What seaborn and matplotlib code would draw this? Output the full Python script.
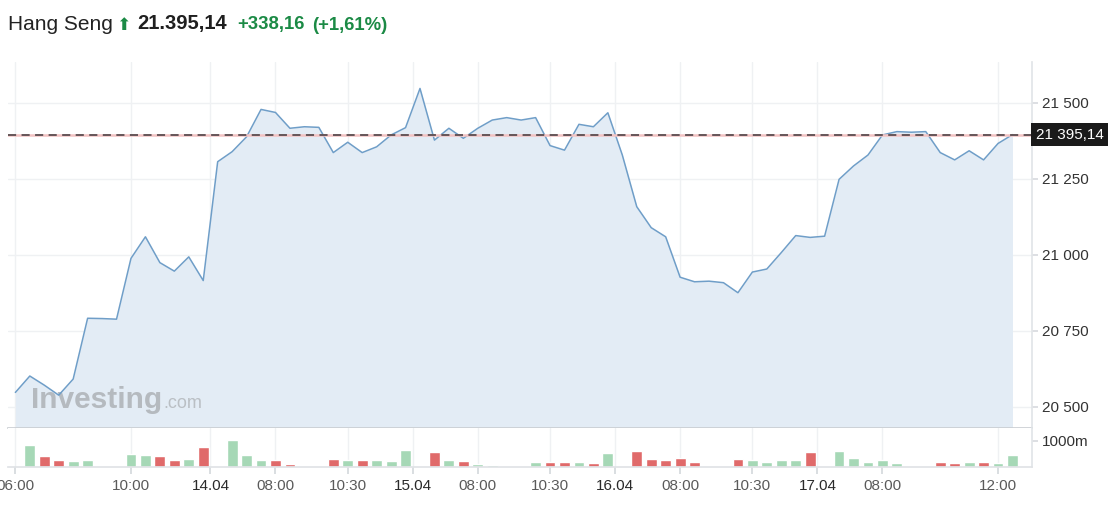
import numpy as np
import pandas as pd
import matplotlib
matplotlib.use("Agg")
import matplotlib.pyplot as plt
import matplotlib.transforms as mtransforms
from matplotlib.ticker import FixedLocator, FuncFormatter
import seaborn as sns

# ---------------- data ----------------
title_name = "Hang Seng"
last_value_text = "21.395,14"
change_text = "+338,16"
change_pct_text = "(+1,61%)"
last_price = 21395.14
last_price_label = "21 395,14"

price = [20547, 20601, 20571, 20538, 20591, 20791, 20790, 20788, 20988, 21059,
         20974, 20946, 20993, 20915, 21306, 21339, 21388, 21478, 21468, 21416,
         21421, 21419, 21336, 21370, 21336, 21355, 21394, 21418, 21547, 21377,
         21416, 21383, 21416, 21443, 21451, 21443, 21451, 21359, 21344, 21429,
         21421, 21467, 21328, 21158, 21089, 21059, 20926, 20911, 20913, 20908,
         20875, 20943, 20953, 21007, 21063, 21057, 21061, 21248, 21292, 21328,
         21394, 21405, 21403, 21405, 21336, 21312, 21342, 21312, 21366, 21395.14]

nan = np.nan
volume = [nan, 860, 435, 280, 220, 280, nan, nan, 510, 475,
          435, 280, 320, 770, nan, 1050, 475, 280, 280, 130,
          nan, nan, 320, 280, 280, 280, 220, 665, nan, 565,
          280, 220, 130, 90, nan, nan, 180, 190, 195, 195,
          140, 520, nan, 620, 310, 255, 350, 195, nan, nan,
          310, 255, 195, 255, 255, 565, nan, 620, 350, 195,
          255, 140, nan, nan, 195, 140, 195, 195, 140, 465]

tick_labels = ["06:00", "10:00", "14.04", "08:00", "10:30", "15.04", "08:00",
               "10:30", "16.04", "08:00", "10:30", "17.04", "08:00", "12:00"]
tick_index = [0, 8, 13.5, 18, 23, 27.5, 32, 37, 41.5, 46, 51, 55.5, 60, 68]
price_ticks = [20500, 20750, 21000, 21250, 21500]
volume_ticks = [1000]

# ---------------- style ----------------
sns.set_theme(style="white")
plt.rcParams['font.family'] = ['Liberation Sans', 'DejaVu Sans']

W, H = 1116, 513
fig = plt.figure(figsize=(W / 100, H / 100), dpi=100, facecolor="white")

def fx(px):
    return px / W

def fy(py):
    return 1 - py / H

L, R = 8, 1032
P_TOP, P_BOT, V_BOT = 62, 428, 467
ax = fig.add_axes([fx(L), fy(P_BOT), fx(R - L), (P_BOT - P_TOP) / H])
axv = fig.add_axes([fx(L), fy(V_BOT), fx(R - L), (V_BOT - P_BOT) / H], sharex=ax)

GREEN = "#1b8a45"
GRID = "#eff1f3"

# ---------------- price panel ----------------
df = pd.DataFrame({"i": np.arange(len(price)), "price": price})
ax.fill_between(df["i"], df["price"], 20000, color="#e3ecf5", lw=0, zorder=1)
sns.lineplot(data=df, x="i", y="price", ax=ax, color="#6f9ec8", lw=1.1, zorder=3)

ax.axhline(last_price, color="#f3c3c3", lw=1.8, zorder=4)
ax.axhline(last_price, color="#5a4d50", lw=1.3, dashes=(4.5, 3), zorder=5)

ax.set_ylim(20430, 21634)
ax.yaxis.tick_right()
ax.yaxis.set_major_locator(FixedLocator(price_ticks))
ax.yaxis.set_major_formatter(FuncFormatter(lambda v, p: f"{v:,.0f}".replace(",", " ")))
ax.tick_params(axis="y", length=4, color="#d8dbdf", labelsize=11, labelcolor="#333333", pad=3)
ax.tick_params(axis="x", length=0, labelbottom=False)
ax.set_xlabel("")
ax.set_ylabel("")
ax.grid(True, color=GRID, lw=1)
ax.set_axisbelow(True)
for s in ["top", "left"]:
    ax.spines[s].set_visible(False)
ax.spines["bottom"].set_color("#c9cdd2")
ax.spines["bottom"].set_linewidth(1.2)
ax.spines["right"].set_color("#e2e5e8")

trans = mtransforms.offset_copy(
    mtransforms.blended_transform_factory(ax.transAxes, ax.transData),
    fig=fig, x=4, y=0, units="dots")
ax.text(1.0, last_price, last_price_label, transform=trans, ha="left", va="center",
        color="white", fontsize=11, zorder=10, clip_on=False,
        bbox=dict(boxstyle="square,pad=0.3", fc="#1a1a1a", ec="none"))

# watermark
ax.text(fx(31), fy(408), "Investing", transform=fig.transFigure, fontsize=21.5,
        fontweight="bold", color="#b5babf", va="baseline", ha="left", zorder=2)
ax.text(fx(163), fy(408), ".com", transform=fig.transFigure, fontsize=13,
        color="#babfc4", va="baseline", ha="left", zorder=2)

# ---------------- volume panel ----------------
direction = np.where(np.diff(np.array(price), prepend=price[0]) >= 0, "up", "down")
vdf = pd.DataFrame({"i": np.arange(len(volume)), "volume": volume, "dir": direction}).dropna()
sns.barplot(data=vdf, x="i", y="volume", hue="dir",
            palette={"up": "#a6d8b6", "down": "#e06a6a"}, native_scale=True,
            width=0.75, dodge=False, errorbar=None, saturation=1, legend=False, ax=axv)

axv.set_ylim(0, 1500)
axv.yaxis.tick_right()
axv.yaxis.set_major_locator(FixedLocator(volume_ticks))
axv.yaxis.set_major_formatter(FuncFormatter(lambda v, p: f"{v:.0f}m"))
axv.tick_params(axis="y", length=4, color="#d8dbdf", labelsize=11, labelcolor="#333333", pad=3)
axv.xaxis.set_major_locator(FixedLocator(tick_index))
axv.set_xticklabels(tick_labels)
axv.tick_params(axis="x", length=5, color="#d5d9dd", labelsize=11, labelcolor="#5a5a5a",
                pad=4, bottom=True)
for lab in axv.get_xticklabels():
    if "." in lab.get_text():
        lab.set_color("#2a2a2a")
axv.set_xlabel("")
axv.set_ylabel("")
axv.grid(True, axis="x", color=GRID, lw=1)
axv.set_axisbelow(True)
for s in ["top", "left"]:
    axv.spines[s].set_visible(False)
axv.spines["bottom"].set_color("#e0e3e6")
axv.spines["right"].set_color("#e2e5e8")

ax.set_xlim(-0.51, 70.35)
axv.set_xlim(-0.51, 70.35)

# ---------------- header ----------------
BASE = fy(29.5)
fig.text(fx(8), BASE, title_name, fontsize=15, color="#222222", va="baseline")
fig.text(fx(116), BASE, "\u2b06", fontsize=12.5, color=GREEN, va="baseline",
         family=["DejaVu Sans"])
fig.text(fx(137), BASE, last_value_text, fontsize=14.5, fontweight="bold",
         color="#1f1f1f", va="baseline")
fig.text(fx(237), BASE, change_text, fontsize=13.3, fontweight="bold",
         color=GREEN, va="baseline")
fig.text(fx(312), BASE, change_pct_text, fontsize=13.3, fontweight="bold",
         color=GREEN, va="baseline")

fig.savefig("out.png", dpi=100, facecolor="white")
